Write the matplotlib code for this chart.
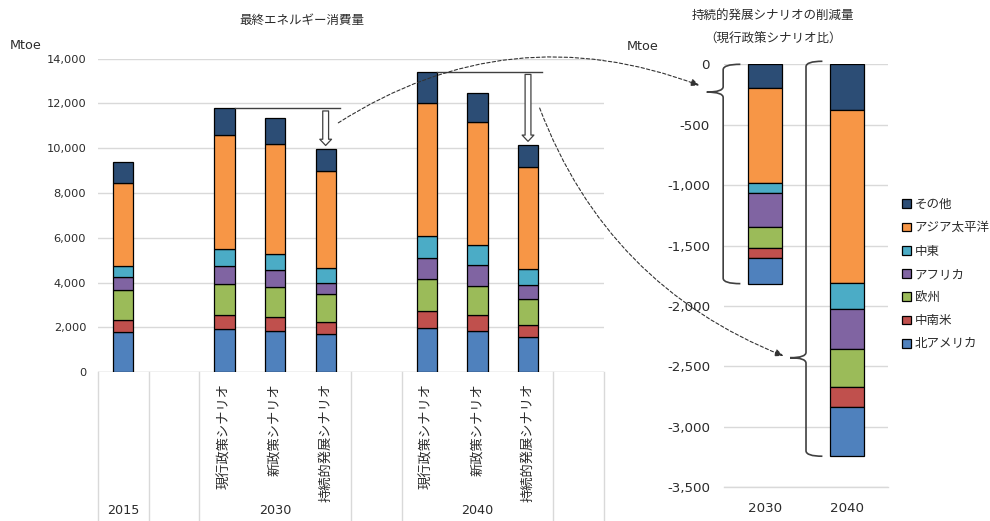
"""Final energy consumption by scenario, and the SDS reduction by region."""
import matplotlib

matplotlib.use("Agg")
import matplotlib.pyplot as plt  # noqa
import matplotlib.transforms as mtransforms  # noqa
import numpy as np
from matplotlib.patches import ConnectionPatch, PathPatch
from matplotlib.path import Path
from matplotlib.ticker import FuncFormatter, MultipleLocator

plt.rcParams["font.family"] = ["DejaVu Sans", "Noto Sans CJK JP"]

TEXT = "#2b2b2b"
GRID = "#d9d9d9"

# stacking order, bottom to top
REGIONS = ["北アメリカ", "中南米", "欧州", "アフリカ", "中東", "アジア太平洋", "その他"]
COLORS = ["#4f81bd", "#c0504d", "#9bbb59", "#8064a2", "#4bacc6", "#f79646", "#2c4d75"]

# left chart: 2015, then CPS / NPS / SDS for 2030 and 2040 (Mtoe)
bar_slots = [0, 2, 3, 4, 6, 7, 8]
scenario_labels = ["", "現行政策シナリオ", "新政策シナリオ", "持続的発展シナリオ",
                   "現行政策シナリオ", "新政策シナリオ", "持続的発展シナリオ"]
year_labels = ["2015", "2030", "2040"]
year_slots = [0, 3, 7]
divider_slots = [-0.5, 0.5, 1.5, 4.5, 5.5, 8.5, 9.5]

north_america = [1815, 1920, 1860, 1725, 1975, 1845, 1560]
latin_america = [505, 640, 625, 535, 745, 700, 565]
europe = [1340, 1400, 1340, 1220, 1430, 1305, 1160]
africa = [595, 800, 760, 520, 965, 925, 595]
middle_east = [475, 730, 685, 640, 965, 890, 740]
asia_pacific = [3720, 5100, 4910, 4330, 5950, 5500, 4525]
other = [920, 1190, 1145, 1000, 1380, 1310, 1010]

# right chart: SDS reduction vs CPS (Mtoe)
cut_years = ["2030", "2040"]
cut_north_america = [215, 411]
cut_latin_america = [78, 165]
cut_europe = [179, 314]
cut_africa = [276, 331]
cut_middle_east = [88, 216]
cut_asia_pacific = [786, 1425]
cut_other = [193, 381]
brace_tips = [-230, -2428]

left_series = [north_america, latin_america, europe, africa, middle_east, asia_pacific, other]
cut_series = [cut_north_america, cut_latin_america, cut_europe, cut_africa,
              cut_middle_east, cut_asia_pacific, cut_other]


def thousands(v, _pos):
    return f"{int(round(v)):,}"


def draw_brace(ax, x, x_tip, x_end, y_top, y_bot, y_tip, ry):
    verts = [(x_end, y_top), (x, y_top), (x, y_top - ry),
             (x, y_tip + ry), (x, y_tip), (x_tip, y_tip),
             (x, y_tip), (x, y_tip - ry),
             (x, y_bot + ry), (x, y_bot), (x_end, y_bot)]
    codes = [Path.MOVETO, Path.CURVE3, Path.CURVE3,
             Path.LINETO, Path.CURVE3, Path.CURVE3,
             Path.CURVE3, Path.CURVE3,
             Path.LINETO, Path.CURVE3, Path.CURVE3]
    ax.add_patch(PathPatch(Path(verts, codes), fc="none", ec="#404040", lw=1.2,
                           clip_on=False, zorder=5))


fig = plt.figure(figsize=(9.9, 5.21), dpi=100)

# ---- left: final energy consumption
ax1 = fig.add_axes([0.099, 0.2854, 0.511, 0.6023])
bottom = np.zeros(len(bar_slots))
for name, vals, color in zip(REGIONS, left_series, COLORS):
    ax1.bar(bar_slots, vals, 0.4, bottom=bottom, color=color, edgecolor="black",
            linewidth=0.9, label=name, zorder=3)
    bottom += np.array(vals)
totals = bottom

ax1.set_xlim(-0.5, 9.5)
ax1.set_ylim(0, 14000)
ax1.yaxis.set_major_locator(MultipleLocator(2000))
ax1.yaxis.set_major_formatter(FuncFormatter(thousands))
ax1.grid(axis="y", color=GRID, lw=1, zorder=0)
ax1.set_xticks([])
ax1.tick_params(axis="y", length=0, pad=8.5, labelsize=8.2, labelcolor=TEXT)
for s in ax1.spines.values():
    s.set_visible(False)
ax1.axhline(0, color=GRID, lw=1, zorder=1)

trans1 = mtransforms.blended_transform_factory(ax1.transData, ax1.transAxes)
for xd in divider_slots:
    ax1.plot([xd, xd], [0, -0.48], color=GRID, lw=1, transform=trans1, clip_on=False)
for xs, lab in zip(bar_slots, scenario_labels):
    if lab:
        ax1.text(xs, -0.034, lab, transform=trans1, rotation=90, ha="center", va="top",
                 fontsize=9.5, color=TEXT)
for xs, lab in zip(year_slots, year_labels):
    ax1.text(xs, -0.439, lab, transform=trans1, ha="center", va="center",
             fontsize=9.2, color=TEXT)

# CPS level lines and hollow arrows down to SDS
for cps, sds in [(1, 3), (4, 6)]:
    x_cps, x_sds = bar_slots[cps], bar_slots[sds]
    ax1.plot([x_cps + 0.2, x_sds + 0.28], [totals[cps]] * 2, color="#404040", lw=1,
             zorder=4)
    ax1.annotate("", xy=(x_sds, totals[sds] + 150), xytext=(x_sds, totals[cps] - 120),
                 arrowprops=dict(arrowstyle="simple,head_length=0.45,head_width=0.85,"
                                            "tail_width=0.42",
                                 fc="white", ec="#404040", lw=0.9, shrinkA=0, shrinkB=0),
                 zorder=4)

fig.text(0.305, 0.96, "最終エネルギー消費量", ha="center", va="center", fontsize=9,
         color=TEXT)
fig.text(0.026, 0.912, "Mtoe", ha="center", va="center", fontsize=9.2, color=TEXT)

# ---- right: SDS reduction
ax2 = fig.add_axes([0.7313, 0.0647, 0.1657, 0.8119])
cut_x = np.arange(len(cut_years))
bottom = np.zeros(len(cut_years))
handles = []
for name, vals, color in zip(REGIONS[::-1], cut_series[::-1], COLORS[::-1]):
    vals = np.array(vals)
    h = ax2.bar(cut_x, -vals, 0.41, bottom=bottom, color=color, edgecolor="black",
                linewidth=0.9, label=name, zorder=3)
    handles.append(h)
    bottom -= vals
cut_totals = bottom

ax2.set_xlim(-0.5, 1.5)
ax2.set_ylim(-3500, 0)
ax2.yaxis.set_major_locator(MultipleLocator(500))
ax2.yaxis.set_major_formatter(FuncFormatter(thousands))
ax2.grid(axis="y", color=GRID, lw=1, zorder=0)
ax2.set_xticks(cut_x, cut_years)
ax2.tick_params(axis="y", length=0, pad=10, labelsize=9.6, labelcolor=TEXT)
ax2.tick_params(axis="x", length=0, pad=10.5, labelsize=9.6, labelcolor=TEXT)
for s in ax2.spines.values():
    s.set_visible(False)
ax2.axhline(-3500, color=GRID, lw=1, zorder=1, clip_on=False)

fig.text(0.781, 0.969, "持続的発展シナリオの削減量", ha="center", va="center", fontsize=9,
         color=TEXT)
fig.text(0.781, 0.925, "（現行政策シナリオ比）", ha="center", va="center", fontsize=9,
         color=TEXT)
fig.text(0.6495, 0.91, "Mtoe", ha="center", va="center", fontsize=9.2, color=TEXT)

# braces spanning each reduction bar
draw_brace(ax2, -0.51, -0.71, -0.30, 0, cut_totals[0], brace_tips[0], 45)
draw_brace(ax2, 0.50, 0.305, 0.70, 25, cut_totals[1], brace_tips[1], 45)

# dashed curved arrows from the SDS arrows to the braces
links = [((4.25, 11130), (-0.80, brace_tips[0] + 55), -0.25),
         ((8.23, 11790), (0.225, brace_tips[1] + 15), 0.22)]
for start, end, rad in links:
    con = ConnectionPatch(xyA=start, coordsA=ax1.transData, xyB=end, coordsB=ax2.transData,
                          arrowstyle="-|>,head_length=0.5,head_width=0.22",
                          connectionstyle=f"arc3,rad={rad}", linestyle=(0, (3, 2)),
                          color="#333333", lw=0.8, mutation_scale=10, shrinkA=0, shrinkB=0)
    fig.add_artist(con)

fig.legend(handles=handles, labels=REGIONS[::-1], loc="upper left",
           bbox_to_anchor=(902 / 990, 1 - 198 / 521), frameon=False, fontsize=9,
           handlelength=0.7, handleheight=0.7, handletextpad=0.3, labelspacing=0.82,
           borderpad=0, borderaxespad=0, labelcolor=TEXT)

fig.savefig("out.png", dpi=100)
